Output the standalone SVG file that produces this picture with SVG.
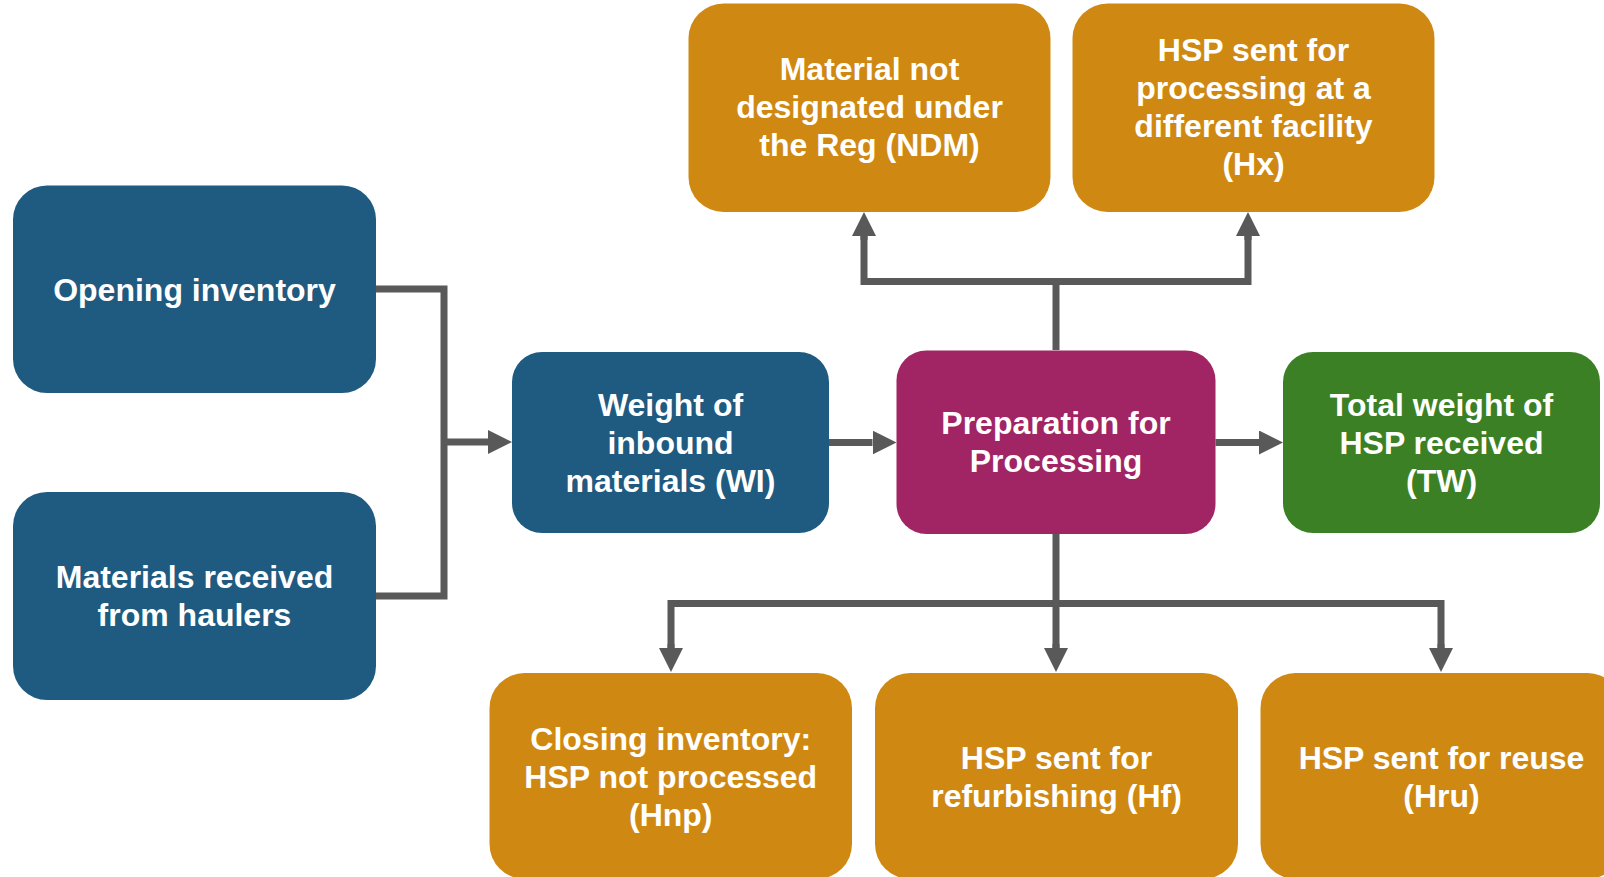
<svg xmlns="http://www.w3.org/2000/svg" width="1604" height="877" viewBox="0 0 1604 877">
<defs>
<style>
.blue{fill:#1F5A80}
.orange{fill:#CF8913}
.magenta{fill:#A12464}
.green{fill:#3B8024}
.lbl{font-family:"Liberation Sans",Arial,sans-serif;font-weight:bold;font-size:32px;fill:#FFFFFF;text-anchor:middle}
.conn{fill:none;stroke:#595959;stroke-width:7;stroke-linejoin:miter}
</style>
<marker id="arr" markerUnits="userSpaceOnUse" viewBox="0 0 24 24" markerWidth="24" markerHeight="24" refX="0" refY="12" orient="auto">
<path d="M0,0 L24,12 L0,24 Z" fill="#595959"/>
</marker>
</defs>
<rect width="1604" height="877" fill="#FFFFFF"/>

<g id="connectors">
<path class="conn" d="M376,289 H444 V596 H376"/>
<path class="conn" d="M444,442 H488" marker-end="url(#arr)"/>
<path class="conn" d="M829,442.5 H872.5" marker-end="url(#arr)"/>
<path class="conn" d="M1215.5,442.5 H1259" marker-end="url(#arr)"/>
<path class="conn" d="M1056,350 V281.5"/>
<path class="conn" d="M864,236 V281.5 H1248 V236" />
<path class="conn" d="M864,240 V236" marker-end="url(#arr)"/>
<path class="conn" d="M1248,240 V236" marker-end="url(#arr)"/>
<path class="conn" d="M1056,534 V603.5"/>
<path class="conn" d="M671,648 V603.5 H1441 V648"/>
<path class="conn" d="M1056,603.5 V648"/>
<path class="conn" d="M671,644 V648" marker-end="url(#arr)"/>
<path class="conn" d="M1056,644 V648" marker-end="url(#arr)"/>
<path class="conn" d="M1441,644 V648" marker-end="url(#arr)"/>
</g>

<g id="opening">
<rect class="blue" x="13" y="185.5" width="363" height="207.5" rx="34"/>
<text class="lbl" x="194.5" y="300.5">Opening inventory</text>
</g>
<g id="haulers">
<rect class="blue" x="13" y="492" width="363" height="208" rx="34"/>
<text class="lbl" x="194.5" y="588">Materials received</text>
<text class="lbl" x="194.5" y="626">from haulers</text>
</g>
<g id="weight">
<rect class="blue" x="512" y="352" width="317" height="181" rx="30"/>
<text class="lbl" x="670.5" y="416">Weight of</text>
<text class="lbl" x="670.5" y="454">inbound</text>
<text class="lbl" x="670.5" y="492">materials (WI)</text>
</g>
<g id="prep">
<rect class="magenta" x="896.5" y="350.5" width="319" height="183.5" rx="30"/>
<text class="lbl" x="1056" y="434">Preparation for</text>
<text class="lbl" x="1056" y="472">Processing</text>
</g>
<g id="tw">
<rect class="green" x="1283" y="352" width="317" height="181" rx="30"/>
<text class="lbl" x="1441.5" y="416">Total weight of</text>
<text class="lbl" x="1441.5" y="454">HSP received</text>
<text class="lbl" x="1441.5" y="492">(TW)</text>
</g>
<g id="ndm">
<rect class="orange" x="688.5" y="3.5" width="362" height="208.5" rx="35"/>
<text class="lbl" x="869.5" y="80">Material not</text>
<text class="lbl" x="869.5" y="118">designated under</text>
<text class="lbl" x="869.5" y="156">the Reg (NDM)</text>
</g>
<g id="hx">
<rect class="orange" x="1072.5" y="3.5" width="362" height="208.5" rx="35"/>
<text class="lbl" x="1253.5" y="61">HSP sent for</text>
<text class="lbl" x="1253.5" y="99">processing at a</text>
<text class="lbl" x="1253.5" y="137">different facility</text>
<text class="lbl" x="1253.5" y="175">(Hx)</text>
</g>
<g id="hnp">
<rect class="orange" x="489.5" y="673" width="362.5" height="206" rx="35"/>
<text class="lbl" x="670.75" y="750">Closing inventory:</text>
<text class="lbl" x="670.75" y="788">HSP not processed</text>
<text class="lbl" x="670.75" y="826">(Hnp)</text>
</g>
<g id="hf">
<rect class="orange" x="875" y="673" width="363" height="206" rx="35"/>
<text class="lbl" x="1056.5" y="769">HSP sent for</text>
<text class="lbl" x="1056.5" y="807">refurbishing (Hf)</text>
</g>
<g id="hru">
<rect class="orange" x="1260.5" y="673" width="362" height="206" rx="35"/>
<text class="lbl" x="1441.5" y="769">HSP sent for reuse</text>
<text class="lbl" x="1441.5" y="807">(Hru)</text>
</g>
</svg>
